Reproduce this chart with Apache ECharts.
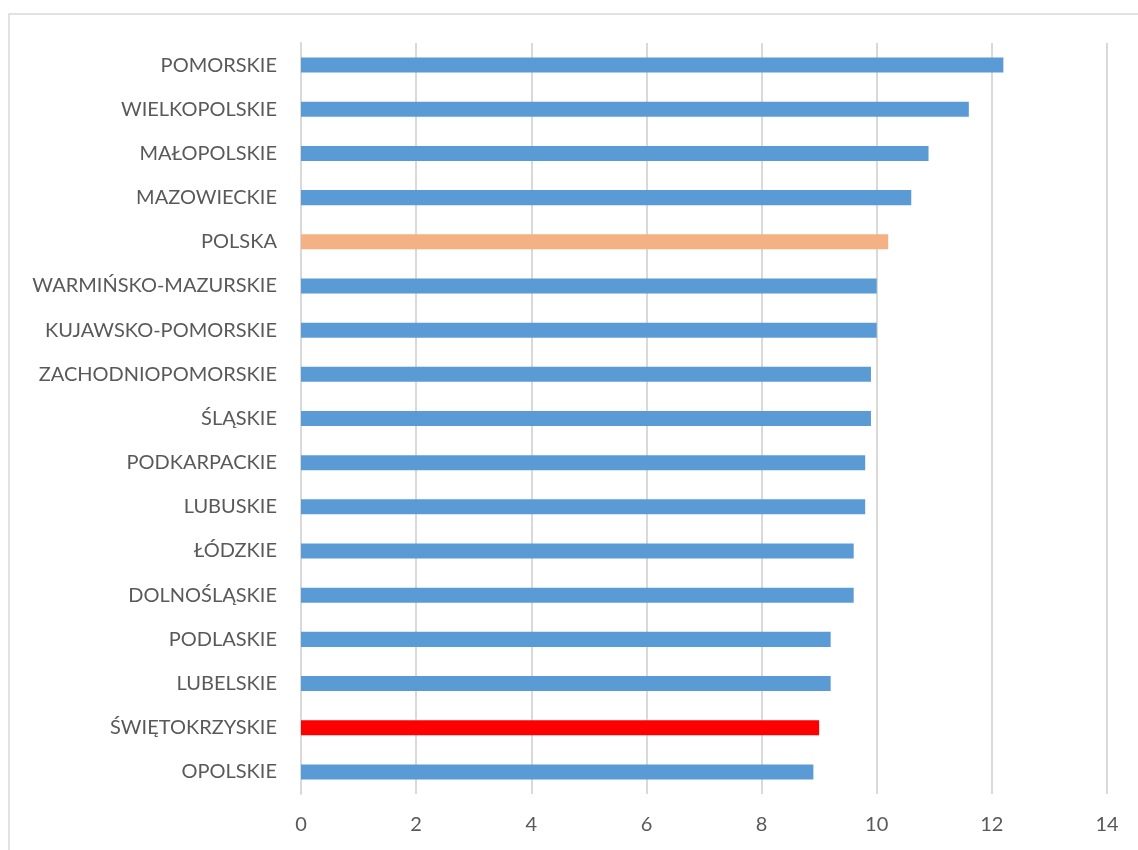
<!DOCTYPE html>
<html>
<head>
<meta charset="utf-8">
<style>
  html, body { margin: 0; padding: 0; background: #fff; }
  #chart { width: 1138px; height: 850px; }
</style>
<script src="https://cdn.jsdelivr.net/npm/echarts@6/dist/echarts.min.js"></script>
</head>
<body>
<div id="chart"></div>
<script>
// Voivodeships, top to bottom
const regions = [
  'POMORSKIE', 'WIELKOPOLSKIE', 'MAŁOPOLSKIE', 'MAZOWIECKIE', 'POLSKA',
  'WARMIŃSKO-MAZURSKIE', 'KUJAWSKO-POMORSKIE', 'ZACHODNIOPOMORSKIE', 'ŚLĄSKIE',
  'PODKARPACKIE', 'LUBUSKIE', 'ŁÓDZKIE', 'DOLNOŚLĄSKIE', 'PODLASKIE',
  'LUBELSKIE', 'ŚWIĘTOKRZYSKIE', 'OPOLSKIE'
];
const values = [
  12.2, 11.6, 10.9, 10.6, 10.2,
  10.0, 10.0, 9.9, 9.9,
  9.8, 9.8, 9.6, 9.6, 9.2,
  9.2, 9.0, 8.9
];
const xTicks = [0, 2, 4, 6, 8, 10, 12, 14];

const countryName = 'POLSKA';
const focusName = 'ŚWIĘTOKRZYSKIE';

const BLUE = '#5B9BD5', ORANGE = '#F4B183', RED = '#FF0000';
const labelFont = 'Lato, "Open Sans", sans-serif';

const chart = echarts.init(document.getElementById('chart'), null, { renderer: 'canvas' });

chart.setOption({
  animation: false,
  backgroundColor: '#ffffff',
  graphic: [{
    type: 'rect',
    shape: { x: 9, y: 14, width: 1160, height: 870 },
    style: { fill: 'none', stroke: '#D9D9D9', lineWidth: 1.5 },
    silent: true,
    z: -1
  }],
  grid: { left: 301, right: 31, top: 43, bottom: 56, containLabel: false },
  xAxis: {
    type: 'value',
    min: xTicks[0],
    max: xTicks[xTicks.length - 1],
    interval: 2,
    axisLine: { show: false },
    axisTick: { show: false },
    splitLine: { show: true, lineStyle: { color: '#D9D9D9', width: 2 } },
    axisLabel: { color: '#595959', fontSize: 20, fontFamily: labelFont, margin: 21 }
  },
  yAxis: {
    type: 'category',
    data: regions,
    inverse: true,
    axisLine: { show: true, lineStyle: { color: '#D9D9D9', width: 2 } },
    axisTick: { show: false },
    axisLabel: { color: '#595959', fontSize: 20, fontFamily: labelFont, margin: 24 }
  },
  series: [{
    type: 'bar',
    barWidth: '34%',
    data: values.map((v, i) => ({
      value: v,
      itemStyle: {
        color: regions[i] === countryName ? ORANGE : (regions[i] === focusName ? RED : BLUE)
      }
    }))
  }]
});
</script>
</body>
</html>
